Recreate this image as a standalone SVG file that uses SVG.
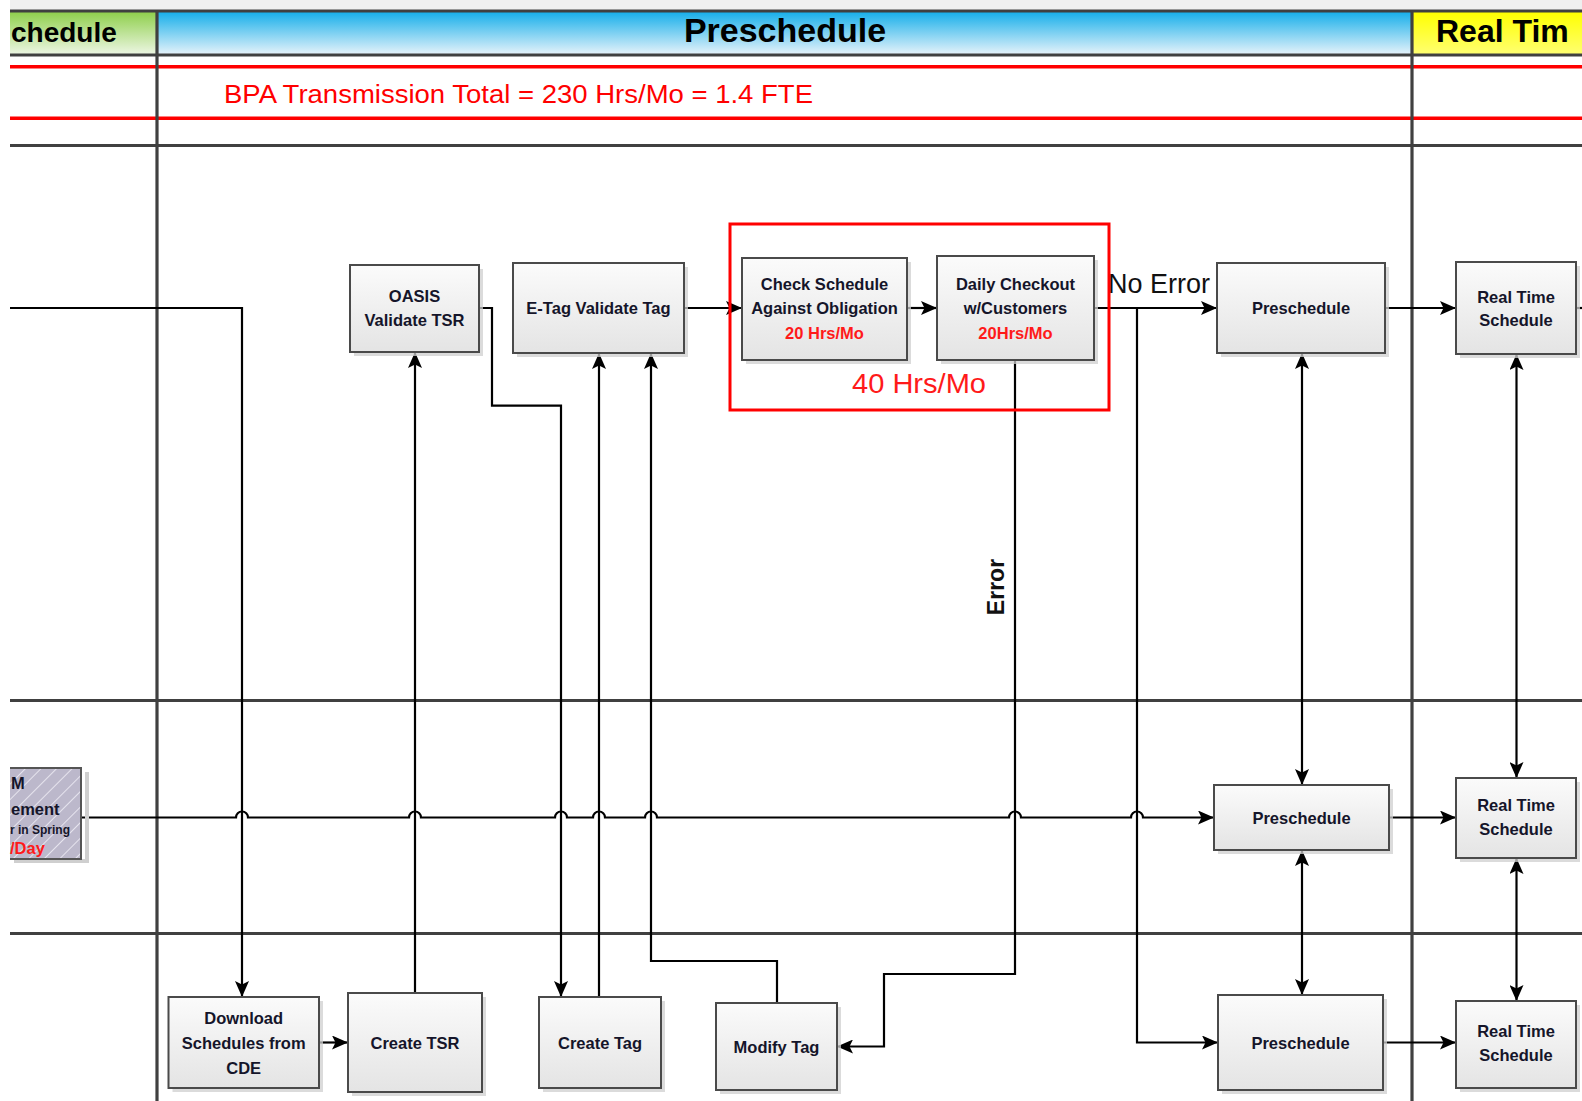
<svg xmlns="http://www.w3.org/2000/svg" width="1582" height="1101" viewBox="0 0 1582 1101">
<style>
.box{fill:url(#boxg);stroke:#4a4a4a;stroke-width:2}
.shd{fill:#cfcfcf;opacity:0.75}
.t{font-family:"Liberation Sans",Arial,sans-serif;font-weight:bold;font-size:16.5px;fill:#15152a;text-anchor:middle}
.tr{fill:#ff1a1a}
.c{fill:none;stroke:#000;stroke-width:2.2}
.lane{stroke:#404040;stroke-width:3.2}
.red{stroke:#ff0000;stroke-width:3.5}
.hdr{font-family:"Liberation Sans",Arial,sans-serif;font-weight:bold;fill:#000}
</style>
<defs>
<linearGradient id="boxg" x1="0" y1="0" x2="0" y2="1"><stop offset="0" stop-color="#fbfbfb"/><stop offset="1" stop-color="#e4e4e4"/></linearGradient>
<linearGradient id="gG" x1="0" y1="0" x2="0" y2="1"><stop offset="0" stop-color="#8fcf4c"/><stop offset="1" stop-color="#ecf6e2"/></linearGradient>
<linearGradient id="gB" x1="0" y1="0" x2="0" y2="1"><stop offset="0" stop-color="#17afea"/><stop offset="1" stop-color="#e4f2fa"/></linearGradient>
<linearGradient id="gY" x1="0" y1="0" x2="0" y2="1"><stop offset="0" stop-color="#ffff00"/><stop offset="1" stop-color="#ffff70"/></linearGradient>
<pattern id="hatch" patternUnits="userSpaceOnUse" width="11" height="11" patternTransform="rotate(45)"><rect width="11" height="11" fill="#bcb8cb"/><line x1="0" y1="0" x2="0" y2="11" stroke="#e6e4ee" stroke-width="2"/></pattern>
<marker id="ah" viewBox="0 0 16 14" refX="16" refY="7" markerWidth="16" markerHeight="14" markerUnits="userSpaceOnUse" orient="auto-start-reverse"><path d="M0,0 L16,7 L0,14 L3.5,7 z" fill="#000"/></marker>
</defs>
<rect x="0" y="0" width="1582" height="1101" fill="#fff"/>
<rect x="10" y="0" width="1572" height="10" fill="#efefef"/>

<g id="swimlanes">
<rect x="10" y="12" width="147" height="42" fill="url(#gG)"/>
<rect x="157" y="12" width="1255" height="42" fill="url(#gB)"/>
<rect x="1412" y="12" width="170" height="42" fill="url(#gY)"/>
<text class="hdr" x="11" y="42" font-size="28">chedule</text>
<text class="hdr" x="785" y="42" font-size="34" text-anchor="middle">Preschedule</text>
<text class="hdr" x="1436" y="42" font-size="32">Real Tim</text>
<line class="lane" x1="10" y1="11" x2="1582" y2="11"/>
<line class="lane" x1="10" y1="55" x2="1582" y2="55"/>
<line class="red" x1="10" y1="66.7" x2="1582" y2="66.7"/>
<line class="red" x1="10" y1="118.3" x2="1582" y2="118.3"/>
<line class="lane" x1="10" y1="145.5" x2="1582" y2="145.5"/>
<line class="lane" x1="10" y1="700.5" x2="1582" y2="700.5"/>
<line class="lane" x1="10" y1="933.5" x2="1582" y2="933.5"/>
<line class="lane" x1="157" y1="11" x2="157" y2="1101"/>
<line class="lane" x1="1412" y1="11" x2="1412" y2="1101"/>
<text x="224" y="103" font-family="'Liberation Sans',Arial,sans-serif" font-size="26" fill="#ff0000" textLength="589" lengthAdjust="spacingAndGlyphs">BPA Transmission Total = 230 Hrs/Mo = 1.4 FTE</text>
</g>

<g id="connectors">
<path class="c" d="M10 308 H242 V997" marker-end="url(#ah)"/>
<path class="c" d="M319 1042.5 H348" marker-end="url(#ah)"/>
<path class="c" d="M415 993 V352" marker-end="url(#ah)"/>
<path class="c" d="M479 308 H492 V405.7 H561 V997" marker-end="url(#ah)"/>
<path class="c" d="M599 997 V353" marker-end="url(#ah)"/>
<path class="c" d="M777 1003 V961 H651 V353" marker-end="url(#ah)"/>
<path class="c" d="M684 308 H742" marker-end="url(#ah)"/>
<path class="c" d="M907 308 H937" marker-end="url(#ah)"/>
<path class="c" d="M1094 308 H1217" marker-end="url(#ah)"/>
<path class="c" d="M1137 308 V1042.5 H1218" marker-end="url(#ah)"/>
<path class="c" d="M1015 360 V974 H884 V1046.5 H837" marker-end="url(#ah)"/>
<path class="c" d="M1386 308 H1456" marker-end="url(#ah)"/>
<path class="c" d="M1576 308 H1582"/>
<path class="c" d="M1302 353 V785" marker-start="url(#ah)" marker-end="url(#ah)"/>
<path class="c" d="M1302 850 V995" marker-start="url(#ah)" marker-end="url(#ah)"/>
<path class="c" d="M1516.5 354 V778" marker-start="url(#ah)" marker-end="url(#ah)"/>
<path class="c" d="M1516.5 858 V1001" marker-start="url(#ah)" marker-end="url(#ah)"/>
<path class="c" d="M81 817.5 H236 A6 6 0 0 1 248 817.5 H409 A6 6 0 0 1 421 817.5 H555 A6 6 0 0 1 567 817.5 H593 A6 6 0 0 1 605 817.5 H645 A6 6 0 0 1 657 817.5 H1009 A6 6 0 0 1 1021 817.5 H1131 A6 6 0 0 1 1143 817.5 H1214" marker-end="url(#ah)"/>
<path class="c" d="M1389 817.5 H1456" marker-end="url(#ah)"/>
<path class="c" d="M1383 1042.5 H1456" marker-end="url(#ah)"/>
<text x="1108" y="293" font-family="'Liberation Sans',Arial,sans-serif" font-size="27" fill="#111">No Error</text>
<text transform="translate(1004,587) rotate(-90)" font-family="'Liberation Sans',Arial,sans-serif" font-weight="bold" font-size="23" fill="#111" text-anchor="middle">Error</text>
</g>

<g id="group-box">
<rect x="730" y="224" width="379" height="186" fill="none" stroke="#ff0000" stroke-width="3"/>
<text x="919" y="393" font-family="'Liberation Sans',Arial,sans-serif" font-size="27" fill="#ff1a1a" text-anchor="middle" textLength="134" lengthAdjust="spacingAndGlyphs">40 Hrs/Mo</text>
</g>

<g id="n-oasis">
<rect class="shd" x="354" y="269" width="129" height="87"/>
<rect class="box" x="350" y="265" width="129" height="87"/>
<text class="t" x="414.5" y="302">OASIS</text>
<text class="t" x="414.5" y="326">Validate TSR</text>
</g>
<g id="n-etag">
<rect class="shd" x="517" y="267" width="171" height="90"/>
<rect class="box" x="513" y="263" width="171" height="90"/>
<text class="t" x="598.5" y="314">E-Tag Validate Tag</text>
</g>
<g id="n-check">
<rect class="shd" x="746" y="262" width="165" height="102"/>
<rect class="box" x="742" y="258" width="165" height="102"/>
<text class="t" x="824.5" y="289.5">Check Schedule</text>
<text class="t" x="824.5" y="314">Against Obligation</text>
<text class="t tr" x="824.5" y="339">20 Hrs/Mo</text>
</g>
<g id="n-daily">
<rect class="shd" x="941" y="260" width="157" height="104"/>
<rect class="box" x="937" y="256" width="157" height="104"/>
<text class="t" x="1015.5" y="289.5">Daily Checkout</text>
<text class="t" x="1015.5" y="314">w/Customers</text>
<text class="t tr" x="1015.5" y="339">20Hrs/Mo</text>
</g>
<g id="n-pre1">
<rect class="shd" x="1221" y="267" width="168" height="90"/>
<rect class="box" x="1217" y="263" width="168" height="90"/>
<text class="t" x="1301" y="314">Preschedule</text>
</g>
<g id="n-rt1">
<rect class="shd" x="1460" y="266" width="120" height="92"/>
<rect class="box" x="1456" y="262" width="120" height="92"/>
<text class="t" x="1516" y="303">Real Time</text>
<text class="t" x="1516" y="326">Schedule</text>
</g>

<g id="n-left">
<rect x="85" y="772" width="4" height="91" fill="#cfcfcf"/>
<rect x="14" y="859" width="75" height="4" fill="#cfcfcf"/>
<rect x="10" y="768" width="71" height="91" fill="url(#hatch)"/>
<path d="M10 768 H81 V859 H10" fill="none" stroke="#555" stroke-width="2"/>
<text x="11" y="789" font-family="'Liberation Sans',Arial,sans-serif" font-weight="bold" font-size="16.5" fill="#15152a">M</text>
<text x="11" y="815" font-family="'Liberation Sans',Arial,sans-serif" font-weight="bold" font-size="16.5" fill="#15152a">ement</text>
<text x="10" y="834" font-family="'Liberation Sans',Arial,sans-serif" font-weight="bold" font-size="12" fill="#15152a">r in Spring</text>
<text x="10" y="854" font-family="'Liberation Sans',Arial,sans-serif" font-weight="bold" font-size="16.5" fill="#ff1a1a">/Day</text>
</g>
<g id="n-pre2">
<rect class="shd" x="1218" y="789" width="175" height="65"/>
<rect class="box" x="1214" y="785" width="175" height="65"/>
<text class="t" x="1301.5" y="823.5">Preschedule</text>
</g>
<g id="n-rt2">
<rect class="shd" x="1460" y="782" width="120" height="80"/>
<rect class="box" x="1456" y="778" width="120" height="80"/>
<text class="t" x="1516" y="811">Real Time</text>
<text class="t" x="1516" y="835">Schedule</text>
</g>

<g id="n-download">
<rect class="shd" x="172.5" y="1001" width="150.5" height="91"/>
<rect class="box" x="168.5" y="997" width="150.5" height="91"/>
<text class="t" x="243.7" y="1024">Download</text>
<text class="t" x="243.7" y="1048.5">Schedules from</text>
<text class="t" x="243.7" y="1073.5">CDE</text>
</g>
<g id="n-createtsr">
<rect class="shd" x="352" y="997" width="134" height="99"/>
<rect class="box" x="348" y="993" width="134" height="99"/>
<text class="t" x="415" y="1048.5">Create TSR</text>
</g>
<g id="n-createtag">
<rect class="shd" x="543" y="1001" width="122" height="91"/>
<rect class="box" x="539" y="997" width="122" height="91"/>
<text class="t" x="600" y="1048.5">Create Tag</text>
</g>
<g id="n-modify">
<rect class="shd" x="720" y="1007" width="121" height="87"/>
<rect class="box" x="716" y="1003" width="121" height="87"/>
<text class="t" x="776.5" y="1052.5">Modify Tag</text>
</g>
<g id="n-pre3">
<rect class="shd" x="1222" y="999" width="165" height="95"/>
<rect class="box" x="1218" y="995" width="165" height="95"/>
<text class="t" x="1300.5" y="1048.5">Preschedule</text>
</g>
<g id="n-rt3">
<rect class="shd" x="1460" y="1005" width="120" height="87"/>
<rect class="box" x="1456" y="1001" width="120" height="87"/>
<text class="t" x="1516" y="1037">Real Time</text>
<text class="t" x="1516" y="1061">Schedule</text>
</g>
</svg>
